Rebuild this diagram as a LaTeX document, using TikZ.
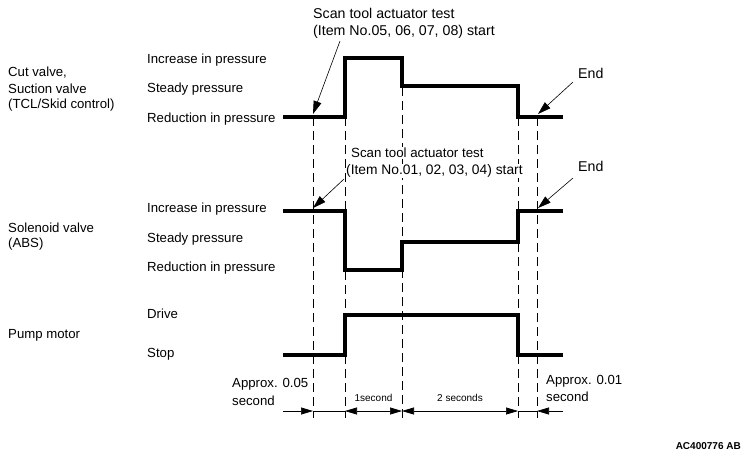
\documentclass[tikz,border=0pt]{standalone}
\usepackage{fontspec}
\setmainfont{Liberation Sans}
\usetikzlibrary{arrows.meta}
\begin{document}
\begin{tikzpicture}[x=1pt,y=-1pt,
  lbl/.style={anchor=west,inner sep=0pt,font=\fontsize{13.2}{15}\selectfont},
  ann/.style={anchor=west,inner sep=0pt,font=\fontsize{14.2}{16}\selectfont},
  sig/.style={line width=3.6pt,line join=miter,line cap=butt},
  guide/.style={line width=0.8pt,dash pattern=on 9pt off 5pt},
  pointer/.style={line width=0.6pt,-{Triangle[length=13pt,width=8pt]}},
  dim/.style={line width=0.7pt},
  dimhead/.style={line width=0.7pt,-{Triangle[length=12pt,width=7pt]}},
  small/.style={inner sep=0pt,font=\fontsize{10}{12}\selectfont}]
\useasboundingbox (0,0) rectangle (749,459);
% guides
\foreach \x/\y in {313/117,345/117,402/87,518/117,537/117}
  \draw[guide] (\x,\y) -- (\x,418);
% waveforms
\draw[sig] (283,117) -- (345,117) -- (345,58) -- (402,58) -- (402,86) -- (518,86) -- (518,117) -- (563,117);
\draw[sig] (283,211) -- (345,211) -- (345,270) -- (402,270) -- (402,242) -- (518,242) -- (518,211) -- (563,211);
\draw[sig] (283,355) -- (345,355) -- (345,315) -- (518,315) -- (518,355) -- (563,355);
% left labels
\node[lbl] (cv1) at (8,73) {Cut valve,};
\node[lbl] (cv2) at (8,89) {Suction valve};
\node[lbl] (cv3) at (8,105) {(TCL/Skid control)};
\node[lbl] (i1) at (147,60) {Increase in pressure};
\node[lbl] (s1) at (147,89) {Steady pressure};
\node[lbl] (r1) at (147,119) {Reduction in pressure};
\node[lbl] (sv1) at (8,228) {Solenoid valve};
\node[lbl] (sv2) at (8,244) {(ABS)};
\node[lbl] (i2) at (147,209) {Increase in pressure};
\node[lbl] (s2) at (147,239) {Steady pressure};
\node[lbl] (r2) at (147,268) {Reduction in pressure};
\node[lbl] (pm) at (8,335) {Pump motor};
\node[lbl] (dr) at (147,314) {Drive};
\node[lbl] (st) at (147,354) {Stop};
% pointers
\coordinate (p1) at (313,114);
\coordinate (p2) at (313,208);
\coordinate (p3) at (538,114);
\coordinate (p4) at (538,208);
\coordinate (q1) at (340,41);
\coordinate (q2) at (344,179);
\coordinate (q3) at (573,82);
\coordinate (q4) at (573,178);
\draw[pointer] (q1) -- (p1);
\draw[pointer] (q2) -- (p2);
\draw[pointer] (q3) -- (p3);
\draw[pointer] (q4) -- (p4);
% annotations
\node[ann] (a1) at (313,13) {Scan tool actuator test};
\node[ann] (a1b) at (313,32) {(Item No.05, 06, 07, 08) start};
\node[ann,fill=white,font=\fontsize{13.3}{15}\selectfont,inner ysep=1pt] (a2) at (351,153) {Scan tool actuator test};
\node[ann,fill=white,font=\fontsize{13.8}{15}\selectfont,inner ysep=1pt] (a2b) at (346,171) {(Item No.01, 02, 03, 04) start};
\node[ann] (e1) at (578,73) {End};
\node[ann] (e2) at (578,166) {End};
% bottom dimensions
\node[lbl] (ap1) at (232,384) {Approx. 0.05};
\node[lbl] (ap1b) at (232,401) {second};
\node[lbl] (ap2) at (546,381) {Approx. 0.01};
\node[lbl] (ap2b) at (546,397) {second};
\coordinate (d0) at (283,411);
\coordinate (d1) at (313,411);
\coordinate (d2) at (345,411);
\coordinate (d3) at (402,411);
\coordinate (d4) at (518,411);
\coordinate (d5) at (537,411);
\coordinate (d6) at (563,411);
\draw[dimhead] (d0) -- (d1);
\draw[dim] (d1) -- (d2);
\draw[dim,{Triangle[length=12pt,width=7pt]}-{Triangle[length=12pt,width=7pt]}] (d2) -- (d3);
\draw[dim,{Triangle[length=12pt,width=7pt]}-{Triangle[length=12pt,width=7pt]}] (d3) -- (d4);
\draw[dim] (d4) -- (d5);
\draw[dimhead] (d6) -- (d5);
\node[small] (l1) at (373.5,398) {1second};
\node[small] (l2) at (460,398) {2 seconds};
\node[inner sep=0pt,anchor=east,font=\fontsize{10}{12}\selectfont\bfseries] (code) at (741,446) {AC400776 AB};
\end{tikzpicture}
\end{document}
